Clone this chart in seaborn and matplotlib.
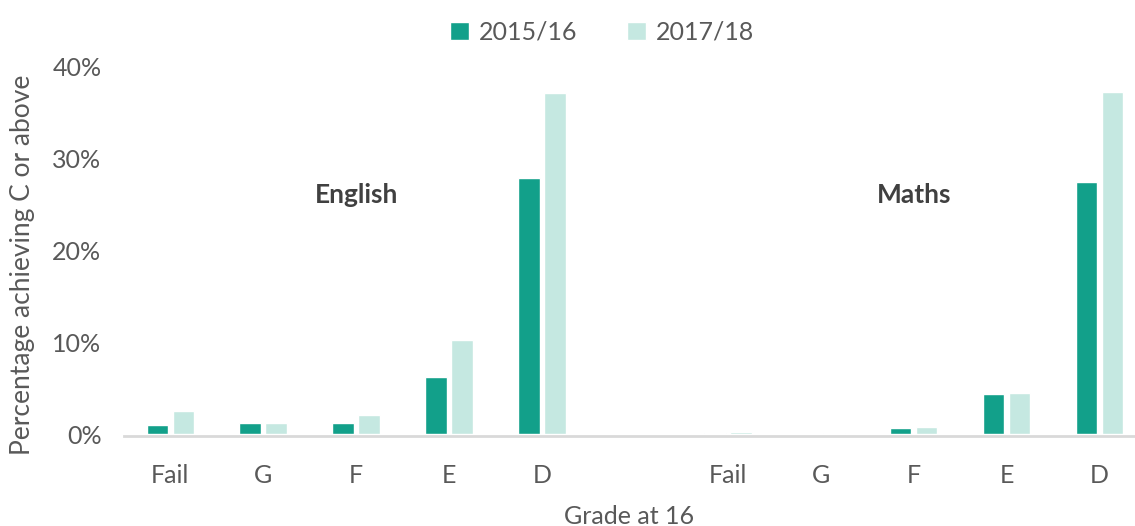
import pandas as pd
import numpy as np
import seaborn as sns
import matplotlib.pyplot as plt
from matplotlib.ticker import PercentFormatter

# Data

grades = ["Fail", "G", "F", "E", "D"]
english_1516 = [1.0, 1.2, 1.3, 6.2, 27.8]
english_1718 = [2.5, 1.2, 2.1, 10.3, 37.1]
maths_1516 = [0.2, 0.0, 0.7, 4.4, 27.4]
maths_1718 = [0.3, 0.15, 0.85, 4.5, 37.2]
years = ["2015/16", "2017/18"]

dark = "#12A08A"
light = "#C5E8E1"
grey = "#595959"

# Build long table, one slot per subject/grade with a blank slot in between

slots = ["English " + g for g in grades] + ["gap"] + ["Maths " + g for g in grades]
rows = []
for g, a, b in zip(grades, english_1516, english_1718):
    rows.append(("English " + g, years[0], a))
    rows.append(("English " + g, years[1], b))
for g, a, b in zip(grades, maths_1516, maths_1718):
    rows.append(("Maths " + g, years[0], a))
    rows.append(("Maths " + g, years[1], b))
df = pd.DataFrame(rows, columns=["slot", "year", "pct"])

sns.set_style("white")
plt.rcParams["font.family"] = ["Lato", "DejaVu Sans"]

fig = plt.figure(figsize=(11.35, 5.26), dpi=100)
ax = fig.add_axes([0.109, 0.174, 0.891, 0.7005])

sns.barplot(data=df, x="slot", y="pct", hue="year", order=slots,
            hue_order=years, palette=[dark, light], width=0.56, gap=0.18,
            saturation=1, ax=ax)

ax.set_xlim(-0.5, 10.38)
ax.set_ylim(0, 40)
ax.set_yticks([0, 10, 20, 30, 40])
ax.yaxis.set_major_formatter(PercentFormatter(decimals=0))
ax.set_xticks(range(len(slots)))
ax.set_xticklabels(grades + [""] + grades)
ax.tick_params(axis="x", length=0, pad=20, labelsize=18, colors=grey)
ax.tick_params(axis="y", length=0, pad=16, labelsize=18, colors=grey)

for s in ["top", "right", "left"]:
    ax.spines[s].set_visible(False)
ax.spines["bottom"].set_color("#D9D9D9")
ax.spines["bottom"].set_linewidth(2)
ax.spines["bottom"].set_position(("outward", 1))

ax.set_xlabel("Grade at 16", fontsize=18, color=grey, labelpad=13)
ax.set_ylabel("Percentage achieving C or above", fontsize=19, color=grey)
ax.yaxis.set_label_coords(-0.088, 0.46)

ax.text(2, 26, "English", ha="center", va="center", fontsize=19,
        fontweight="bold", color="#404040")
ax.text(8, 26, "Maths", ha="center", va="center", fontsize=19,
        fontweight="bold", color="#404040")

leg = ax.legend(loc="lower center", bbox_to_anchor=(0.473, 1.0), ncol=2,
                frameon=False, fontsize=18, handlelength=0.75, handleheight=0.75,
                columnspacing=2.0, handletextpad=0.4)
for t in leg.get_texts():
    t.set_color(grey)

fig.savefig("out.png", dpi=100)
